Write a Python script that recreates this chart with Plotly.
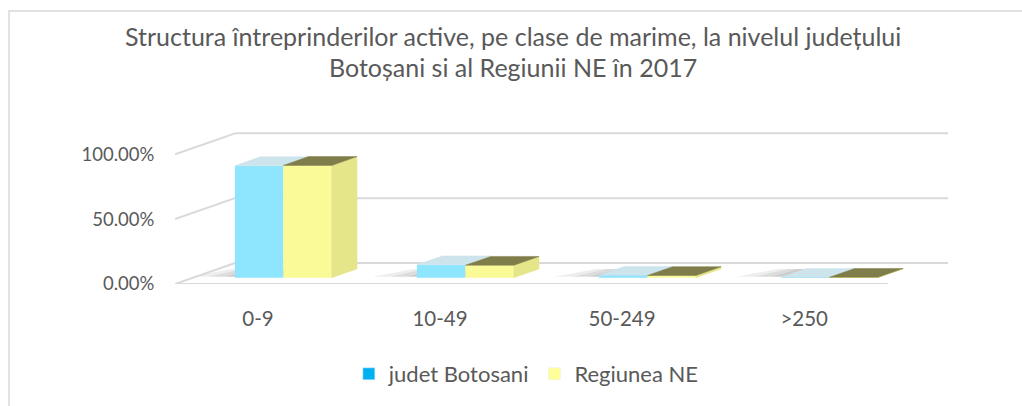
"""
Structura intreprinderilor active pe clase de marime - bare 3D simulate
"""
import plotly.graph_objects as go

categories = ["0-9", "10-49", "50-249", ">250"]
judet_botosani = [86.4, 10.0, 1.9, 0.3]
regiunea_ne = [86.6, 9.6, 1.7, 0.3]
y_ticks = [0, 50, 100]
y_tick_labels = ["0.00%", "50.00%", "100.00%"]

title_lines = [
    "Structura întreprinderilor active, pe clase de marime, la nivelul județului",
    "Botoșani si al Regiunii NE în 2017",
]

W, H = 1022, 406
M_L, M_R, M_T, M_B = 175, 74, 131, 122
X_RANGE = [-0.456, 3.79]
Y_RANGE = [0, 118]

# adancimea "3D": deplasare pe x (unitati categorie) si pe y (%) pentru adancime 1
DX, DY = 0.33, 16.2
Z_FRONT, Z_BACK = 0.3, 0.72
BAR_W = 0.266
PAIR_SHIFT = 0.04
FLOOR_X = [-0.456, 3.46]

FONT = "Lato"
GREY = "#595959"
GRID = "#D9D9D9"


def proj(x, y, z):
    return x + z * DX, y + z * DY


def px_to_paper(px, py):
    pw = W - M_L - M_R
    ph = H - M_T - M_B
    return (px - M_L) / pw, (H - M_B - py) / ph


series = [
    dict(name="judet Botosani", values=judet_botosani, front="#8DE5FE",
         top="#CDE4EC", side=None, legend="#00B0F0"),
    dict(name="Regiunea NE", values=regiunea_ne, front="#FAFA96",
         top="#7F7D49", side="#E5E589", legend="#FFFF99"),
]

fig = go.Figure()
shapes = []

for k, s in enumerate(series):
    xs0 = [i + PAIR_SHIFT + (k - 1) * BAR_W for i in range(len(categories))]
    xs1 = [x + BAR_W for x in xs0]

    # fata din fata
    fig.add_trace(go.Bar(
        x=[(a + b) / 2 + Z_FRONT * DX for a, b in zip(xs0, xs1)],
        y=s["values"],
        base=Z_FRONT * DY,
        width=BAR_W,
        marker=dict(color=s["front"], line=dict(width=0)),
        showlegend=False,
        hoverinfo="skip",
    ))

    # umbra pe podea, la stanga perechii de bare
    if k == 0:
        for a in xs0:
            for spread in (0.26, 0.16, 0.07):
                pts = [proj(a - spread, 0, Z_FRONT + 0.05), proj(a + BAR_W, 0, Z_FRONT + 0.05),
                       proj(a + BAR_W, 0, Z_BACK), proj(a - spread * 0.6, 0, Z_BACK)]
                path = "M " + " L ".join(f"{px},{py}" for px, py in pts) + " Z"
                shapes.append(dict(type="path", path=path, fillcolor="rgba(0,0,0,0.07)",
                                   line=dict(width=0), layer="below"))

    # fata de sus si fata laterala (latura albastra e ascunsa de bara galbena)
    top_x, top_y, side_x, side_y = [], [], [], []
    for a, b, v in zip(xs0, xs1, s["values"]):
        for p in [proj(a, v, Z_FRONT), proj(b, v, Z_FRONT),
                  proj(b, v, Z_BACK), proj(a, v, Z_BACK), proj(a, v, Z_FRONT)]:
            top_x.append(p[0])
            top_y.append(p[1])
        top_x.append(None)
        top_y.append(None)
        for p in [proj(b, 0, Z_FRONT), proj(b, v, Z_FRONT),
                  proj(b, v, Z_BACK), proj(b, 0, Z_BACK), proj(b, 0, Z_FRONT)]:
            side_x.append(p[0])
            side_y.append(p[1])
        side_x.append(None)
        side_y.append(None)

    if s["side"]:
        fig.add_trace(go.Scatter(
            x=side_x, y=side_y, mode="lines", fill="toself",
            fillcolor=s["side"], line=dict(width=0.5, color=s["side"]),
            showlegend=False, hoverinfo="skip",
        ))
    fig.add_trace(go.Scatter(
        x=top_x, y=top_y, mode="lines", fill="toself",
        fillcolor=s["top"], line=dict(width=0.5, color=s["top"]),
        showlegend=False, hoverinfo="skip",
    ))

# intrari legenda
for s in series:
    fig.add_trace(go.Bar(
        x=[None], y=[None], name=s["name"],
        marker=dict(color=s["legend"]),
    ))

# grila: perete stang, perete spate, podea
for v in y_ticks:
    x0, y0 = proj(FLOOR_X[0], v, 0)
    x1, y1 = proj(FLOOR_X[0], v, 1)
    x2, y2 = proj(FLOOR_X[1], v, 1)
    shapes.append(dict(type="line", x0=x0, y0=y0, x1=x1, y1=y1,
                       line=dict(color=GRID, width=2), layer="below"))
    shapes.append(dict(type="line", x0=x1, y0=y1, x1=x2, y1=y2,
                       line=dict(color=GRID, width=2), layer="below"))
fx0, fy0 = proj(FLOOR_X[0], 0, 0)
fx1, fy1 = proj(FLOOR_X[1], 0, 0)
shapes.append(dict(type="line", x0=fx0, y0=fy0, x1=fx1, y1=fy1,
                   line=dict(color=GRID, width=2), layer="below"))

# chenarul graficului
bx0, by0 = px_to_paper(9, 11)
bx1, by1 = px_to_paper(W + 10, H + 10)
shapes.append(dict(type="rect", xref="paper", yref="paper",
                   x0=bx0, y0=by1, x1=bx1, y1=by0,
                   line=dict(color=GRID, width=1.5), layer="below"))

annotations = []
for text, py in zip(title_lines, [36, 67]):
    ax, ay = px_to_paper(513, py)
    annotations.append(dict(text=text, xref="paper", yref="paper", x=ax, y=ay,
                            xanchor="center", yanchor="middle", showarrow=False,
                            font=dict(family=FONT, size=25, color=GREY)))

fig.update_layout(
    width=W, height=H,
    margin=dict(l=M_L, r=M_R, t=M_T, b=M_B, autoexpand=False),
    paper_bgcolor="white",
    plot_bgcolor="white",
    barmode="overlay",
    font=dict(family=FONT, size=18, color=GREY),
    shapes=shapes,
    annotations=annotations,
    xaxis=dict(
        range=X_RANGE,
        tickvals=list(range(len(categories))),
        ticktext=categories,
        showgrid=False, zeroline=False, showline=False,
        ticks="outside", ticklen=16, tickcolor="rgba(0,0,0,0)",
        tickfont=dict(family=FONT, size=20.5, color=GREY),
        fixedrange=True,
    ),
    yaxis=dict(
        range=Y_RANGE,
        tickvals=y_ticks,
        ticktext=y_tick_labels,
        showgrid=False, zeroline=False, showline=False,
        ticks="outside", ticklen=16, tickcolor="rgba(0,0,0,0)",
        tickfont=dict(family=FONT, size=18.5, color=GREY),
        fixedrange=True,
    ),
    legend=dict(
        orientation="h",
        xref="container", yref="container",
        x=0.515, xanchor="center",
        y=1 - 374 / H, yanchor="middle",
        font=dict(family=FONT, size=22, color=GREY),
        itemwidth=30,
        traceorder="normal",
    ),
)

fig.write_html("out.html", config={"displayModeBar": False},
               post_script="document.body.style.margin='0';")
